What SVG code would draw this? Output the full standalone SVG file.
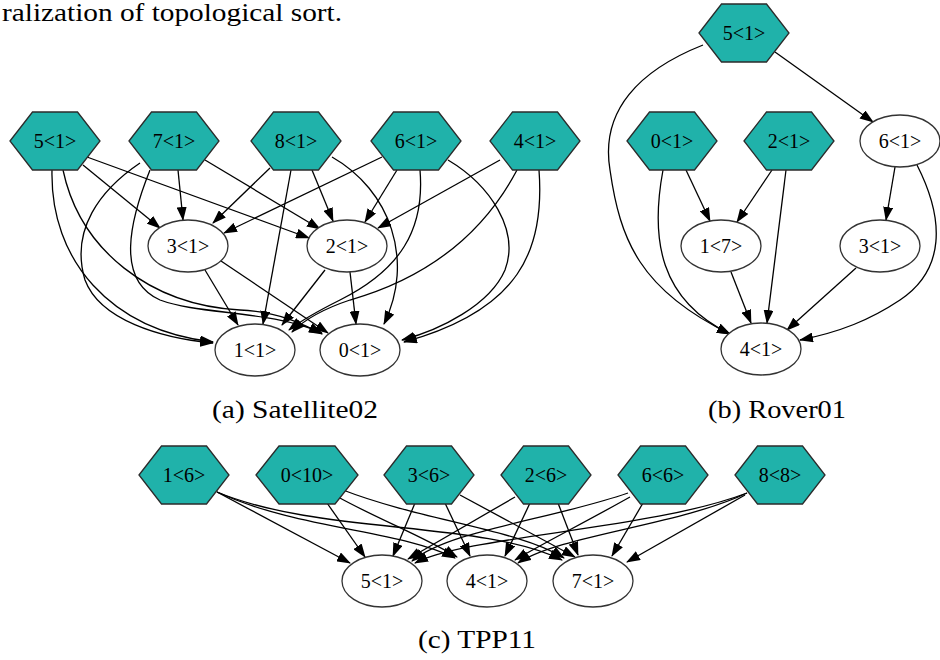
<svg xmlns="http://www.w3.org/2000/svg" xmlns:xlink="http://www.w3.org/1999/xlink" width="940" height="660" viewBox="0 0 940 660">
<style>
.hex{fill:#20b2aa;stroke:#2b2b2b;stroke-width:1.3}
.ell{fill:#fff;stroke:#333;stroke-width:1.3}
.lbl{font-family:"Liberation Serif","Times New Roman",serif;font-size:20px;text-anchor:middle;fill:#000}
.cap{font-family:"Liberation Serif","Times New Roman",serif;font-size:26px;fill:#000}
.edges path{fill:none;stroke:#000;stroke-width:1.3;marker-end:url(#ah)}
</style>
<defs>
<marker id="ah" markerWidth="14" markerHeight="10" refX="13" refY="5" orient="auto" markerUnits="userSpaceOnUse"><path d="M0,0 L14,5 L0,10 z" fill="#000"/></marker>
<polygon id="hx" points="-45,0 -22.5,-29 22.5,-29 45,0 22.5,29 -22.5,29"/>
</defs>
<rect width="940" height="660" fill="#fff"/>
<text class="cap" font-family="Liberation Serif, serif" font-size="25" x="2" y="21" textLength="340" lengthAdjust="spacingAndGlyphs">ralization of topological sort.</text>

<g class="edges" id="edges">
<!-- (a) -->
<path d="M83,165 L160,228"/>
<path d="M87,157 L309,238"/>
<path d="M52,170 C50,260 110,330 213,342"/>
<path d="M63,170 C80,250 150,305 240,310 C280,312 305,325 322,334"/>
<path d="M178,170 L183,220"/>
<path d="M205,160 L320,229"/>
<path d="M140,163 C100,190 70,230 85,280 C100,320 160,338 213,343"/>
<path d="M150,170 C130,220 115,280 160,300 C200,315 270,310 322,333"/>
<path d="M270,168 L213,223"/>
<path d="M312,170 L333,221"/>
<path d="M291,170 L263,324"/>
<path d="M332,157 C390,190 415,260 384,324"/>
<path d="M382,157 L224,233"/>
<path d="M397,170 L365,222"/>
<path d="M420,170 C425,230 400,270 340,300 C310,315 298,323 289,330"/>
<path d="M448,160 C490,185 520,230 505,270 C490,305 440,330 402,340"/>
<path d="M500,160 L378,228"/>
<path d="M517,170 C480,240 420,280 350,300 C320,310 302,322 292,332"/>
<path d="M539,170 C545,250 520,310 404,342"/>
<path d="M205,270 L238,325"/>
<path d="M221,261 L328,333"/>
<path d="M325,270 L282,325"/>
<path d="M350,272 L356,324"/>
<!-- (b) -->
<path d="M775,52 L873,122"/>
<path d="M703,45 C640,70 600,110 610,170 C620,240 640,290 730,334"/>
<path d="M686,170 L710,221"/>
<path d="M663,170 C650,240 660,300 730,334"/>
<path d="M772,170 L737,222"/>
<path d="M786,170 L767,323"/>
<path d="M731,272 L751,323"/>
<path d="M895,167 L886,220"/>
<path d="M917,165 C945,220 945,270 900,300 C870,320 840,332 800,340"/>
<path d="M856,268 L787,330"/>
<!-- (c) -->
<path d="M217,492 L350,563"/>
<path d="M217,492 C300,530 400,530 455,558"/>
<path d="M217,492 C320,535 480,520 562,560"/>
<path d="M327,503 L365,557"/>
<path d="M338,497 C380,520 420,535 457,557"/>
<path d="M343,490 C420,520 520,530 564,558"/>
<path d="M415,503 L393,556"/>
<path d="M445,503 L470,556"/>
<path d="M460,495 L575,557"/>
<path d="M515,497 L408,559"/>
<path d="M530,503 L505,556"/>
<path d="M558,503 L578,555"/>
<path d="M628,493 C550,520 450,530 412,561"/>
<path d="M630,497 C580,525 540,545 515,560"/>
<path d="M643,503 L612,556"/>
<path d="M747,493 C650,530 470,535 415,563"/>
<path d="M747,493 C680,525 560,535 518,563"/>
<path d="M745,495 L627,562"/>
</g>

<!-- (a) nodes -->
<g id="a5"><use xlink:href="#hx" class="hex" x="55" y="141"/><text class="lbl" x="55" y="148">5&lt;1&gt;</text></g>
<g id="a7"><use xlink:href="#hx" class="hex" x="174" y="141"/><text class="lbl" x="174" y="148">7&lt;1&gt;</text></g>
<g id="a8"><use xlink:href="#hx" class="hex" x="296" y="141"/><text class="lbl" x="296" y="148">8&lt;1&gt;</text></g>
<g id="a6"><use xlink:href="#hx" class="hex" x="416" y="141"/><text class="lbl" x="416" y="148">6&lt;1&gt;</text></g>
<g id="a4"><use xlink:href="#hx" class="hex" x="535" y="141"/><text class="lbl" x="535" y="148">4&lt;1&gt;</text></g>
<g id="a3"><ellipse class="ell" cx="188" cy="246" rx="40" ry="26"/><text class="lbl" x="188" y="253">3&lt;1&gt;</text></g>
<g id="a2"><ellipse class="ell" cx="347" cy="246" rx="40" ry="26"/><text class="lbl" x="347" y="253">2&lt;1&gt;</text></g>
<g id="a1"><ellipse class="ell" cx="255" cy="350" rx="40" ry="26"/><text class="lbl" x="255" y="357">1&lt;1&gt;</text></g>
<g id="a0"><ellipse class="ell" cx="360" cy="350" rx="40" ry="26"/><text class="lbl" x="360" y="357">0&lt;1&gt;</text></g>

<!-- (b) nodes -->
<g id="b5"><use xlink:href="#hx" class="hex" x="744" y="33"/><text class="lbl" x="744" y="40">5&lt;1&gt;</text></g>
<g id="b0"><use xlink:href="#hx" class="hex" x="672" y="141"/><text class="lbl" x="672" y="148">0&lt;1&gt;</text></g>
<g id="b2"><use xlink:href="#hx" class="hex" x="789" y="141"/><text class="lbl" x="789" y="148">2&lt;1&gt;</text></g>
<g id="b6"><ellipse class="ell" cx="900" cy="141" rx="40" ry="26"/><text class="lbl" x="900" y="148">6&lt;1&gt;</text></g>
<g id="b1"><ellipse class="ell" cx="721" cy="246" rx="40" ry="26"/><text class="lbl" x="721" y="253">1&lt;7&gt;</text></g>
<g id="b3"><ellipse class="ell" cx="880" cy="246" rx="40" ry="26"/><text class="lbl" x="880" y="253">3&lt;1&gt;</text></g>
<g id="b4"><ellipse class="ell" cx="761" cy="349" rx="40" ry="26"/><text class="lbl" x="761" y="356">4&lt;1&gt;</text></g>

<!-- (c) nodes -->
<g id="c1"><use xlink:href="#hx" class="hex" x="184" y="475"/><text class="lbl" x="184" y="482">1&lt;6&gt;</text></g>
<g id="c0"><polygon class="hex" points="256,475 279,446 335,446 358,475 335,504 279,504"/><text class="lbl" x="307" y="482">0&lt;10&gt;</text></g>
<g id="c3"><use xlink:href="#hx" class="hex" x="429" y="475"/><text class="lbl" x="429" y="482">3&lt;6&gt;</text></g>
<g id="c2"><use xlink:href="#hx" class="hex" x="546" y="475"/><text class="lbl" x="546" y="482">2&lt;6&gt;</text></g>
<g id="c6"><use xlink:href="#hx" class="hex" x="663" y="475"/><text class="lbl" x="663" y="482">6&lt;6&gt;</text></g>
<g id="c8"><use xlink:href="#hx" class="hex" x="780" y="475"/><text class="lbl" x="780" y="482">8&lt;8&gt;</text></g>
<g id="c5"><ellipse class="ell" cx="382" cy="581" rx="40" ry="26"/><text class="lbl" x="382" y="588">5&lt;1&gt;</text></g>
<g id="c4"><ellipse class="ell" cx="487" cy="581" rx="40" ry="26"/><text class="lbl" x="487" y="588">4&lt;1&gt;</text></g>
<g id="c7"><ellipse class="ell" cx="593" cy="581" rx="40" ry="26"/><text class="lbl" x="593" y="588">7&lt;1&gt;</text></g>

<text class="cap" x="212" y="418" textLength="166" lengthAdjust="spacingAndGlyphs">(a) Satellite02</text>
<text class="cap" x="708" y="418" textLength="138" lengthAdjust="spacingAndGlyphs">(b) Rover01</text>
<text class="cap" x="418" y="648" textLength="118" lengthAdjust="spacingAndGlyphs">(c) TPP11</text>
</svg>
